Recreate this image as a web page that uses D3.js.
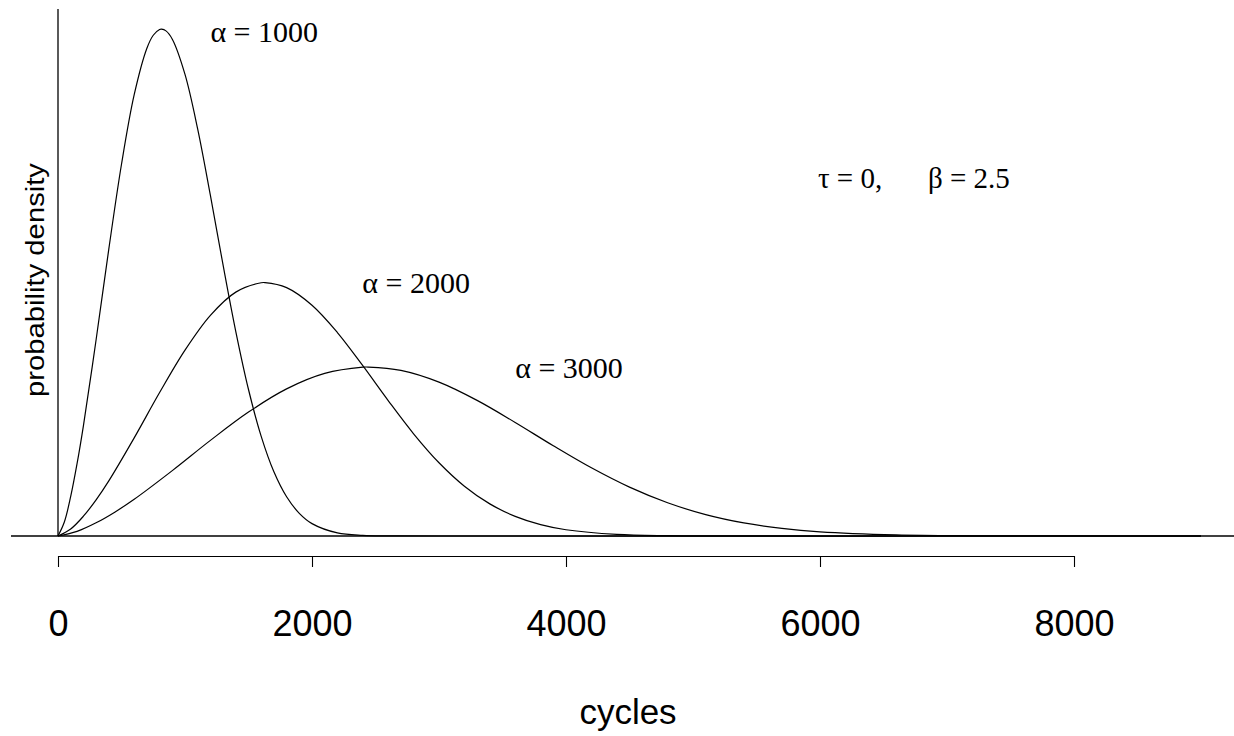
<!DOCTYPE html>
<html>
<head>
<meta charset="utf-8">
<script src="https://cdn.jsdelivr.net/npm/d3@7"></script>
<style>
  html, body { margin: 0; padding: 0; background: #fff; }
  svg { display: block; }
</style>
</head>
<body>
<svg id="chart" width="1234" height="736"></svg>
<script>
// ---- data (probability density in units of 1e-3 per cycle) ----
const cycles1000 = [0,50,100,150,200,300,400,500,600,700,750,800,815,850,900,1000,1100,1200,1300,1400,1500,1600,1700,1800,1900,2000,2200,2400,2600,3000,9000];
const dens1000   = [0,0.0279,0.0788,0.1440,0.2196,0.3910,0.5716,0.7407,0.8792,0.9718,0.9977,1.0092,1.0098,1.0064,0.9899,0.9197,0.8107,0.6786,0.5395,0.4074,0.2919,0.1985,0.1279,0.0781,0.0452,0.0247,0.0062,0.0012,0.0002,0,0];

const cycles2000 = [0,100,200,300,400,600,800,1000,1200,1400,1600,1630,1800,2000,2200,2400,2600,2800,3000,3200,3400,3600,3800,4000,4400,4800,5200,6000,9000];
const dens2000   = [0,0.0140,0.0394,0.0720,0.1098,0.1955,0.2858,0.3703,0.4396,0.4859,0.5046,0.5049,0.4949,0.4598,0.4054,0.3393,0.2698,0.2037,0.1460,0.0993,0.0640,0.0391,0.0226,0.0124,0.0031,0.0006,0.0001,0,0];

const cycles3000 = [0,150,300,450,600,900,1200,1500,1800,2100,2400,2445,2700,3000,3300,3600,3900,4200,4500,4800,5100,5400,5700,6000,6600,7200,7800,9000];
const dens3000   = [0,0.0093,0.0263,0.0480,0.0732,0.1303,0.1905,0.2469,0.2931,0.3239,0.3364,0.3366,0.3300,0.3066,0.2702,0.2262,0.1798,0.1358,0.0973,0.0662,0.0426,0.0260,0.0151,0.0082,0.0021,0.0004,0.0001,0];

const xTicks = [0, 2000, 4000, 6000, 8000];
const xTickLabels = ["0", "2000", "4000", "6000", "8000"];

const curveLabels = [
  { text: "\u03B1 = 1000", cx: 1200, cy: 0.985, size: 30 },
  { text: "\u03B1 = 2000", cx: 2396, cy: 0.4842, size: 30 },
  { text: "\u03B1 = 3000", cx: 3600, cy: 0.3148, size: 30 }
];
const paramLabels = [
  { text: "\u03C4 = 0,", cx: 5984, cy: 0.6934, size: 29 },
  { text: "\u03B2 = 2.5", cx: 6850, cy: 0.6934, size: 29 }
];

const xTitle = "cycles";
const yTitle = "probability density";

// ---- drawing ----
const svg = d3.select("#chart");
const x = d3.scaleLinear().domain([0, 8000]).range([58, 1074]);
const y = d3.scaleLinear().domain([0, 1.05]).range([536, 9]);

const sans = "'Liberation Sans', Arial, Helvetica, sans-serif";
const serif = "'Liberation Serif', 'Times New Roman', Times, serif";

// y axis line (no ticks)
svg.append("line")
  .attr("x1", x(0)).attr("x2", x(0))
  .attr("y1", y(1.05)).attr("y2", y(0))
  .attr("stroke", "#000").attr("stroke-width", 1.3);

// zero baseline
svg.append("line")
  .attr("x1", 11).attr("x2", 1234)
  .attr("y1", y(0)).attr("y2", y(0))
  .attr("stroke", "#000").attr("stroke-width", 1.3);

// x axis below
const xAxis = d3.axisBottom(x)
  .tickValues(xTicks)
  .tickFormat((d, i) => xTickLabels[i])
  .tickSize(11)
  .tickSizeOuter(0)
  .tickPadding(43);

const gx = svg.append("g")
  .attr("transform", "translate(0,556)")
  .call(xAxis);
gx.select(".domain").attr("stroke", "#000").attr("stroke-width", 1.1);
gx.selectAll(".tick line").attr("stroke", "#000").attr("stroke-width", 1.1);
gx.selectAll(".tick text")
  .attr("fill", "#000")
  .style("font-family", sans)
  .style("font-size", "36px");

// curves
const series = [
  { xs: cycles1000, ys: dens1000 },
  { xs: cycles2000, ys: dens2000 },
  { xs: cycles3000, ys: dens3000 }
];
const line = d3.line()
  .x(d => x(d[0]))
  .y(d => y(d[1]))
  .curve(d3.curveCatmullRom.alpha(0.5));

series.forEach(s => {
  const pts = s.xs.map((c, i) => [c, s.ys[i]]);
  svg.append("path")
    .attr("d", line(pts))
    .attr("fill", "none")
    .attr("stroke", "#000")
    .attr("stroke-width", 1.2);
});

// labels in plot
curveLabels.concat(paramLabels).forEach(l => {
  svg.append("text")
    .attr("x", x(l.cx))
    .attr("y", y(l.cy))
    .attr("fill", "#000")
    .style("font-family", serif)
    .style("font-size", l.size + "px")
    .text(l.text);
});

// axis titles
svg.append("text")
  .attr("x", 628)
  .attr("y", 724)
  .attr("text-anchor", "middle")
  .attr("fill", "#000")
  .style("font-family", sans)
  .style("font-size", "35px")
  .text(xTitle);

svg.append("text")
  .attr("transform", "translate(44,280) rotate(-90)")
  .attr("text-anchor", "middle")
  .attr("fill", "#000")
  .attr("textLength", 234)
  .attr("lengthAdjust", "spacingAndGlyphs")
  .style("font-family", sans)
  .style("font-size", "25px")
  .text(yTitle);
</script>
</body>
</html>
